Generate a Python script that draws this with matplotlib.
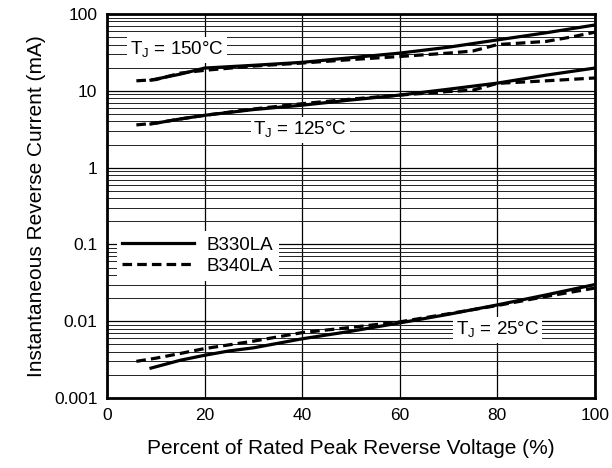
import matplotlib.pyplot as plt
from matplotlib.ticker import FixedLocator, NullFormatter

plt.rcParams['font.family'] = ['Liberation Sans', 'DejaVu Sans']

# T_J = 150 C
x150_330 = [9, 15, 20, 30, 40, 50, 60, 70, 80, 90, 100]
y150_330 = [13.8, 16.5, 19.8, 21.5, 23.5, 27, 31, 37, 46, 57, 72]
x150_340 = [6, 10, 15, 20, 30, 40, 50, 60, 70, 75, 80, 90, 95, 100]
y150_340 = [13.5, 14, 17, 18.5, 21, 23, 25.5, 28, 31, 33, 40, 44, 50, 58]

# T_J = 125 C
x125_330 = [9, 15, 20, 30, 40, 50, 60, 70, 80, 90, 100]
y125_330 = [3.7, 4.3, 4.8, 5.7, 6.5, 7.6, 8.8, 10.5, 12.6, 16, 19.8]
x125_340 = [6, 10, 15, 20, 30, 40, 50, 60, 70, 75, 80, 90, 100]
y125_340 = [3.6, 3.8, 4.3, 4.8, 5.8, 6.8, 7.8, 8.8, 9.8, 10.2, 12.5, 13.5, 14.7]

# T_J = 25 C
x25_330 = [9, 15, 20, 25, 30, 40, 50, 60, 70, 80, 90, 100]
y25_330 = [0.00245, 0.0031, 0.0036, 0.0041, 0.0045, 0.0059, 0.0074, 0.0095, 0.0123, 0.0163, 0.022, 0.030]
x25_340 = [6, 10, 15, 20, 30, 40, 50, 60, 70, 80, 90, 100]
y25_340 = [0.0030, 0.0033, 0.0038, 0.0044, 0.0055, 0.0071, 0.0083, 0.0098, 0.0125, 0.016, 0.021, 0.027]

labels = ['B330LA', 'B340LA']

fig = plt.figure(figsize=(6.12, 4.68), dpi=100)
ax = fig.add_axes([0.175, 0.1496, 0.797, 0.8204])

lw = 2.3
dash = (0, (3.0, 1.6))
ax.plot(x150_330, y150_330, color='black', lw=lw)
ax.plot(x150_340, y150_340, color='black', lw=lw, linestyle=dash)
ax.plot(x125_330, y125_330, color='black', lw=lw)
ax.plot(x125_340, y125_340, color='black', lw=lw, linestyle=dash)
l1, = ax.plot(x25_330, y25_330, color='black', lw=lw, label=labels[0])
l2, = ax.plot(x25_340, y25_340, color='black', lw=lw, linestyle=dash, label=labels[1])

ax.set_yscale('log')
ax.set_xlim(0, 100)
ax.set_ylim(0.001, 100)
ax.set_xticks([0, 20, 40, 60, 80, 100])
ax.yaxis.set_major_locator(FixedLocator([0.001, 0.01, 0.1, 1, 10, 100]))
ax.set_yticklabels(['0.001', '0.01', '0.1', '1', '10', '100'])
ax.yaxis.set_minor_formatter(NullFormatter())
ax.tick_params(which='both', length=0, labelsize=12.5, pad=7)

ax.grid(True, which='major', color='black', lw=0.9)
ax.grid(True, which='minor', axis='y', color='#222222', lw=0.7)
for s in ax.spines.values():
    s.set_linewidth(2)

ax.set_xlabel('Percent of Rated Peak Reverse Voltage (%)', fontsize=15, labelpad=12)
ax.set_ylabel('Instantaneous Reverse Current (mA)', fontsize=15, labelpad=6)

box = dict(facecolor='white', edgecolor='none', pad=2)
ax.text(14.3, 34, 'T$_\\mathregular{J}$ = 150°C', fontsize=13.5, ha='center', va='center', bbox=box)
ax.text(39.6, 3.1, 'T$_\\mathregular{J}$ = 125°C', fontsize=13.5, ha='center', va='center', bbox=box)
ax.text(80, 0.0077, 'T$_\\mathregular{J}$ = 25°C', fontsize=13.5, ha='center', va='center', bbox=box)

leg = ax.legend(handles=[l1, l2], loc='center left', bbox_to_anchor=(0.02, 0.37),
                frameon=True, fancybox=False, edgecolor='none', framealpha=1,
                fontsize=13.5, handlelength=3.8, handletextpad=0.7, borderpad=0.3,
                labelspacing=0.2, borderaxespad=0)

fig.savefig('out.png', dpi=100)
